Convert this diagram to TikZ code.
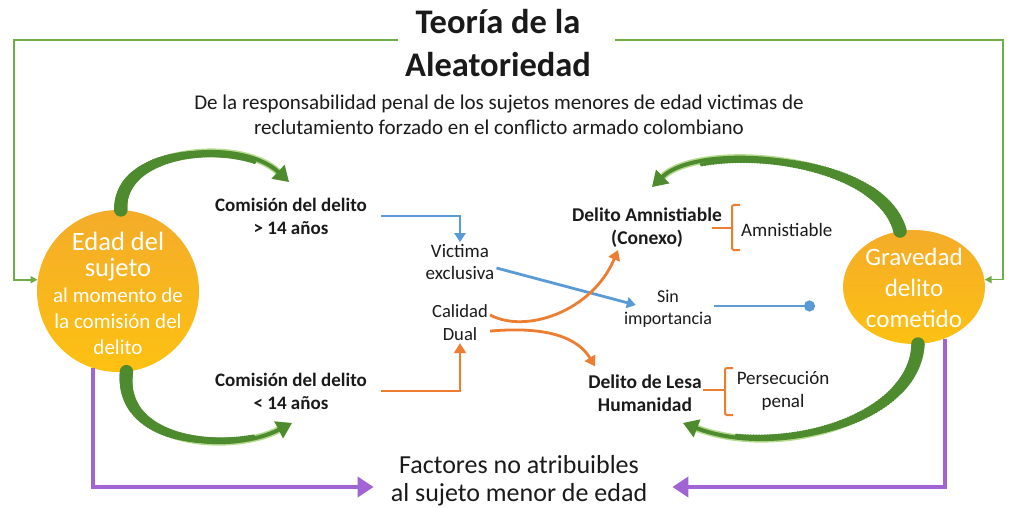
\documentclass[tikz,border=0pt]{standalone}
\usepackage{fontspec}
\setmainfont{Carlito}
\usetikzlibrary{arrows.meta, positioning, shapes.geometric, decorations.markings}

\definecolor{frameGreen}{HTML}{70AD47}
\definecolor{arcGreen}{HTML}{4E8A2E}
\definecolor{glowGreen}{HTML}{B5DB8F}
\definecolor{lineBlue}{HTML}{5B9BD5}
\definecolor{lineOrange}{HTML}{ED7D31}
\definecolor{linePurple}{HTML}{A064D4}
\definecolor{goldTop}{HTML}{F4AC2A}
\definecolor{goldBottom}{HTML}{FDC112}
\definecolor{inkText}{HTML}{1A1A1A}

\begin{document}
\begin{tikzpicture}[x=1pt,y=-1pt, text=inkText]
        \tikzstyle{txt} = [align=center, inner sep=2pt]
        \tikzstyle{boldtxt} = [align=center, inner sep=2pt, font=\bfseries\fontsize{19.5}{23}\selectfont]
        \tikzstyle{ball} = [circle, minimum size=162pt, inner sep=0pt, top color=goldTop, bottom color=goldBottom, draw=none]
        \tikzstyle{oval} = [ellipse, minimum width=142pt, minimum height=114pt, inner sep=0pt, top color=goldTop, bottom color=goldBottom, draw=none]
        \tikzstyle{balltext} = [align=center, text=white, inner sep=0pt]
        \tikzstyle{frame} = [draw=frameGreen, line width=1.8pt, -{Triangle[length=7pt,width=7pt]}]
        \tikzstyle{greenarc} = [draw=arcGreen, line width=4pt, preaction={draw=glowGreen, line width=7pt},
            -{Triangle[length=15pt,width=18pt]},
            postaction={decorate, decoration={markings, mark=between positions 0 and 0.8 step 0.01 with {
                \pgfmathsetmacro\arcr{6.8-6*\pgfkeysvalueof{/pgf/decoration/mark info/distance from start}/\pgfdecoratedpathlength}
                \fill[arcGreen] (0,0) circle (\arcr pt);}}}]
        \tikzstyle{bluearrow} = [draw=lineBlue, line width=2.8pt, -{Triangle[length=9pt,width=11pt]}]
        \tikzstyle{orangearrow} = [draw=lineOrange, line width=2.8pt, -{Triangle[length=10pt,width=12pt]}]
        \tikzstyle{bracket} = [draw=lineOrange, line width=2pt, rounded corners=2pt]
        \tikzstyle{purplearrow} = [draw=linePurple, line width=4.5pt, -{Triangle[length=16pt,width=20pt]}]

        \useasboundingbox (0,0) rectangle (1010,508);

        % titles
        \node (title) [txt, font=\bfseries\fontsize{34.5}{43}\selectfont] at (498,43) {Teoría de la\\Aleatoriedad};
        \node (subtitle) [txt, font=\fontsize{21}{25}\selectfont] at (499,115) {De la responsabilidad penal de los sujetos menores de edad victimas de\\reclutamiento forzado en el conflicto armado colombiano};

        % main shapes
        \node (edad) [ball] at (118,291) {};
        \node (edadtxt) [balltext, font=\fontsize{21}{26}\selectfont] at (118,293) {\fontsize{26.5}{31}\selectfont Edad del\\\fontsize{26.5}{30}\selectfont sujeto\\al momento de\\la comisión del\\delito};
        \node (grav) [oval] at (914,287) {};
        \node (gravtxt) [balltext, font=\fontsize{25}{31}\selectfont] at (914,288) {Gravedad\\delito\\cometido};

        % middle texts
        \node (mayor) [boldtxt, font=\bfseries\fontsize{19}{23}\selectfont] at (291,216) {Comisión del delito\\> 14 años};
        \node (menor) [boldtxt, font=\bfseries\fontsize{19}{23}\selectfont] at (291,391) {Comisión del delito\\< 14 años};
        \node (victima) [txt, font=\fontsize{19}{22}\selectfont] at (460,262) {Victima\\exclusiva};
        \node (calidad) [txt, font=\fontsize{18.6}{23}\selectfont] at (460,323) {Calidad\\Dual};
        \node (sin) [txt, font=\fontsize{18}{22}\selectfont] at (668,309) {Sin\\importancia};
        \node (amnis) [boldtxt] at (647,228) {Delito Amnistiable\\(Conexo)};
        \node (lesa) [boldtxt] at (645,393) {Delito de Lesa\\Humanidad};
        \node (amnistxt) [txt, font=\fontsize{19}{23}\selectfont, anchor=west] at (739,230) {Amnistiable};
        \node (persec) [txt, font=\fontsize{19}{23}\selectfont] at (783,391) {Persecución\\penal};
        \node (factores) [txt, font=\fontsize{26}{28}\selectfont] at (519,481) {Factores no atribuibles\\al sujeto menor de edad};

        \coordinate (frameL) at (398,40);
        \coordinate (frameR) at (615,40);
        \coordinate (mayortop) at (289,182);
        \coordinate (menorbot) at (292,423);
        \coordinate (amnistop) at (652,187);
        \coordinate (lesabot) at (683,423);
        \coordinate (dotend) at (815,306);

        % frame lines
        \draw [frame] (frameL) -- (14,40) |- (edad.172);
        \draw [frame] (frameR) -- (1003,40) |- (grav.6);

        % green arcs
        \draw [greenarc] (edad.88) .. controls (118,148) and (240,136) .. (mayortop);
        \draw [greenarc] (edad.-84) .. controls (118,445) and (230,455) .. (menorbot);
        \draw [greenarc] (grav.104) .. controls (880,155) and (700,140) .. (amnistop);
        \draw [greenarc] (grav.-86) .. controls (915,420) and (780,460) .. (lesabot);

        % blue and orange connectors
        \draw [bluearrow] ([xshift=12pt]mayor.east) -| (victima.north);
        \draw [orangearrow] ([xshift=12pt]menor.east) -| (calidad.south);
        \draw [bluearrow] ([yshift=-6pt]victima.east) -- ([xshift=14pt,yshift=4pt]sin.west);
        \draw [draw=lineBlue, line width=2.8pt, -{Circle[length=11pt]}] ([yshift=3pt]sin.east) -- (dotend);
        \draw [orangearrow] (calidad.15) .. controls (525,334) and (592,312) .. ([xshift=-29pt]amnis.south);
        \draw [orangearrow] (calidad.-15) .. controls (548,326) and (578,338) .. ([xshift=-50pt,yshift=6pt]lesa.north);

        % brackets
        \draw [bracket] (740,205) -- (732,205) -- (732,250) -- (740,250);
        \draw [bracket] (712,228) -- (732,228);
        \draw [bracket] (733,368) -- (725,368) -- (725,415) -- (733,415);
        \draw [bracket] (703,390) -- (725,390);

        % purple arrows
        \draw [purplearrow] (edad.-108) |- ([xshift=-15pt,yshift=-6pt]factores.west);
        \draw [purplearrow] (grav.-59) |- ([xshift=23pt,yshift=-6pt]factores.east);
    \end{tikzpicture}
\end{document}
